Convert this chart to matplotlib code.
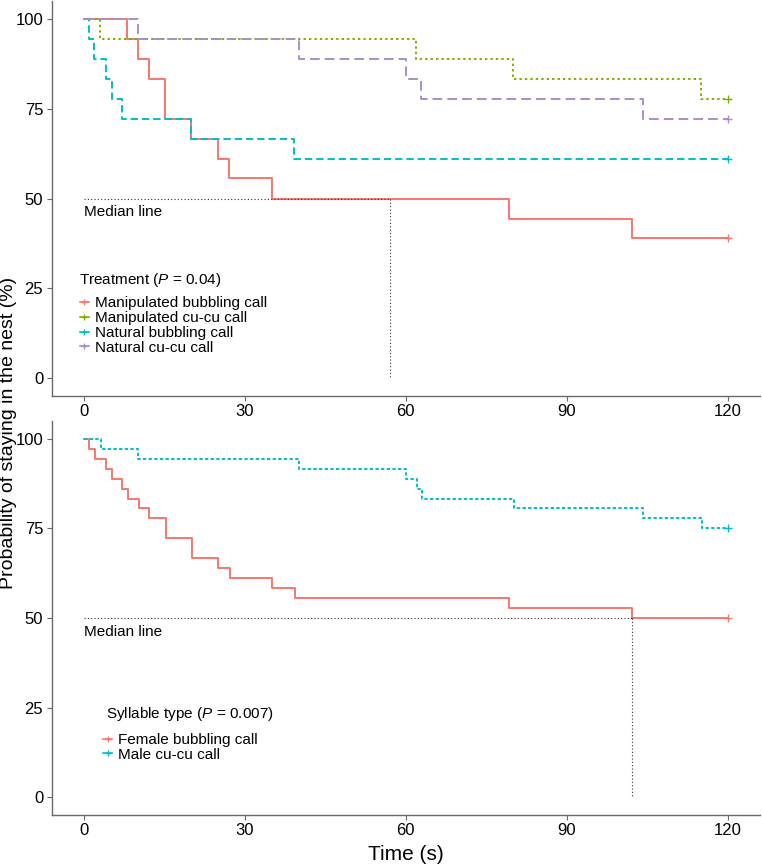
import matplotlib
matplotlib.use("Agg")
import matplotlib.pyplot as plt
from matplotlib.lines import Line2D

plt.rcParams['font.family'] = ['Liberation Sans', 'DejaVu Sans']
plt.rcParams['mathtext.fontset'] = 'custom'
plt.rcParams['mathtext.rm'] = 'Liberation Sans'
plt.rcParams['mathtext.it'] = 'Liberation Sans:italic'

# ---- data (time in s, survival in %) ----
# top panel: treatment
man_bub_t = [0, 8.1, 10.1, 12.2, 15.1, 20.0, 25.0, 27.1, 35.1, 79.2, 102.2, 120]
man_bub_v = [100, 94.4, 88.9, 83.3, 72.2, 66.7, 61.1, 55.6, 50.0, 44.4, 38.9, 38.9]
man_cu_t = [0, 3.0, 62.0, 80.1, 115.1, 120]
man_cu_v = [100, 94.4, 88.9, 83.3, 77.8, 77.8]
nat_bub_t = [0, 1.0, 2.0, 4.1, 5.2, 7.1, 20.0, 39.2, 120]
nat_bub_v = [100, 94.4, 88.9, 83.3, 77.8, 72.2, 66.7, 61.1, 61.1]
nat_cu_t = [0, 10.1, 40.1, 60.1, 62.9, 104.2, 120]
nat_cu_v = [100, 94.4, 88.9, 83.3, 77.8, 72.2, 72.2]
median_top = 57.0

# bottom panel: syllable type
fem_t = [0, 1.0, 2.1, 4.1, 5.2, 7.2, 8.3, 10.3, 12.2, 15.3, 20.1, 25.1, 27.2,
         35.1, 39.3, 79.2, 102.2, 120]
fem_v = [100, 97.2, 94.4, 91.7, 88.9, 86.1, 83.3, 80.6, 77.8, 72.2, 66.7, 63.9,
         61.1, 58.3, 55.6, 52.8, 50.0, 50.0]
male_t = [0, 3.2, 10.2, 40.2, 60.1, 62.1, 63.1, 80.2, 104.3, 115.2, 120]
male_v = [100, 97.2, 94.4, 91.7, 88.9, 86.1, 83.3, 80.6, 77.8, 75.0, 75.0]
median_bottom = 102.2

x_ticks = [0, 30, 60, 90, 120]
y_ticks = [0, 25, 50, 75, 100]

RED = '#F8766D'
GREEN = '#7CAE00'
CYAN = '#00BFC4'
PURPLE = '#A98DC8'

top_series = [
    ("Manipulated bubbling call", man_bub_t, man_bub_v, RED, '-'),
    ("Manipulated cu-cu call", man_cu_t, man_cu_v, GREEN, (0, (1.2, 1.6))),
    ("Natural bubbling call", nat_bub_t, nat_bub_v, CYAN, (0, (3.8, 2.0))),
    ("Natural cu-cu call", nat_cu_t, nat_cu_v, PURPLE, (0, (5.0, 2.6))),
]
bottom_series = [
    ("Female bubbling call", fem_t, fem_v, RED, '-'),
    ("Male cu-cu call", male_t, male_v, CYAN, (0, (1.7, 1.2))),
]

fig = plt.figure(figsize=(7.62, 8.66), dpi=100)
ax1 = fig.add_axes([0.0676, 0.5427, 0.9294, 0.4561])
ax2 = fig.add_axes([0.0676, 0.0589, 0.9294, 0.4550])


def style_axes(ax):
    ax.set_xlim(-6, 126)
    ax.set_ylim(-5, 105)
    ax.set_xticks(x_ticks)
    ax.set_yticks(y_ticks)
    for s in ['top', 'right']:
        ax.spines[s].set_visible(False)
    for s in ['left', 'bottom']:
        ax.spines[s].set_color('#6a6a6a')
        ax.spines[s].set_linewidth(1.0)
    ax.tick_params(colors='#6a6a6a', labelcolor='black', labelsize=12,
                   length=3.5, width=0.8, pad=2.5)


def draw_panel(ax, series, median_x, title, title_pos, leg_anchor):
    handles = []
    for name, t, v, col, ls in series:
        ax.step(t, v, where='post', color=col, lw=1.4, linestyle=ls)
        ax.plot(t[-1], v[-1], marker='+', color=col, markersize=6, mew=1.0)
        handles.append(Line2D([0], [0], color=col, lw=1.2, marker='+',
                              markersize=5, mew=1.0, label=name))
    # median guide lines
    ax.plot([0, median_x], [50, 50], color='#333333', lw=0.8, linestyle=(0, (1, 2)))
    ax.plot([median_x, median_x], [50, 0], color='#333333', lw=0.8, linestyle=(0, (1, 2)))
    ax.text(0, 46.2, "Median line", fontsize=11, va='center', ha='left')
    ax.text(title_pos[0], title_pos[1], title, transform=ax.transAxes,
            fontsize=11, va='center', ha='left')
    ax.legend(handles=handles, loc='upper left', bbox_to_anchor=leg_anchor,
              frameon=False, fontsize=11, handlelength=0.6, handletextpad=0.4,
              labelspacing=0.05, borderaxespad=0, borderpad=0)


style_axes(ax1)
style_axes(ax2)
draw_panel(ax1, top_series, median_top, "Treatment ($\\it{P}$ = 0.04)",
           (0.0388, 0.2937), (0.040, 0.252))
draw_panel(ax2, bottom_series, median_bottom, "Syllable type ($\\it{P}$ = 0.007)",
           (0.0772, 0.2563), (0.0727, 0.208))

fig.text(0.0118, 0.5, "Probability of staying in the nest (%)", rotation=90,
         ha='center', va='center', fontsize=14)
ax2.set_xlabel("Time (s)", fontsize=15, labelpad=5)

fig.savefig("out.png", dpi=100)
